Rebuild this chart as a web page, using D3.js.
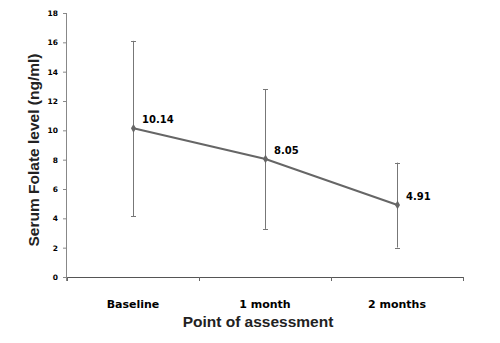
<!DOCTYPE html>
<html><head><meta charset="utf-8">
<script src="https://cdn.jsdelivr.net/npm/d3@7"></script>
<style>body{margin:0;background:#fff}svg{display:block}</style>
</head><body>
<svg id="c" width="500" height="343"></svg>
<script>
const categories = ["Baseline", "1 month", "2 months"];
const means = [10.14, 8.05, 4.91];
const errLow = [4.14, 3.28, 2.01];
const errHigh = [16.1, 12.8, 7.8];
const yTicks = [0, 2, 4, 6, 8, 10, 12, 14, 16, 18];

const svg = d3.select("#c");
const L = 67, R = 463, T = 13, B = 277;
const x = d3.scaleBand().domain(categories).range([L, R]);
const y = d3.scaleLinear().domain([0, 18]).range([B, T]);
const cx = d => x(d) + x.bandwidth() / 2;

// y axis
const ya = svg.append("g").attr("transform", `translate(${L},0)`)
  .call(d3.axisLeft(y).tickValues(yTicks).tickSize(4).tickPadding(5).tickFormat(d3.format("d")));
ya.select(".domain").attr("stroke", "#888").attr("d", `M-0.5,${T}V${B + 4}`);
ya.selectAll(".tick line").attr("stroke", "#888");
ya.selectAll(".tick text").attr("font-family", "DejaVu Sans").attr("font-weight", "bold")
  .attr("font-size", 7.5).attr("fill", "#000");

// x axis
const xa = svg.append("g").attr("transform", `translate(0,${B})`)
  .call(d3.axisBottom(x).tickSize(0).tickPadding(23));
xa.select(".domain").attr("stroke", "#555").attr("d", `M${L},0.5H${R}`);
xa.selectAll(".tick text").attr("font-family", "DejaVu Sans").attr("font-weight", "bold")
  .attr("font-size", 11).attr("fill", "#000");
const bounds = categories.map(c => x(c)).concat([R]);
xa.selectAll(".xt").data(bounds).enter().append("line")
  .attr("x1", d => d + 0.5).attr("x2", d => d + 0.5).attr("y1", 0).attr("y2", 4)
  .attr("stroke", "#666");

// error bars
const eb = svg.append("g").attr("stroke", "#777").attr("stroke-width", 1);
categories.forEach((c, i) => {
  const px = Math.round(cx(c)) + 0.5;
  eb.append("line").attr("x1", px).attr("x2", px).attr("y1", y(errLow[i])).attr("y2", y(errHigh[i]));
  eb.append("line").attr("x1", px - 2.5).attr("x2", px + 2.5).attr("y1", Math.round(y(errLow[i])) + 0.5).attr("y2", Math.round(y(errLow[i])) + 0.5);
  eb.append("line").attr("x1", px - 2.5).attr("x2", px + 2.5).attr("y1", Math.round(y(errHigh[i])) + 0.5).attr("y2", Math.round(y(errHigh[i])) + 0.5);
});

// line
const line = d3.line().x((d, i) => Math.round(cx(categories[i])) + 0.5).y(d => y(d));
svg.append("path").datum(means).attr("d", line).attr("fill", "none")
  .attr("stroke", "#666").attr("stroke-width", 2);

// markers
svg.selectAll(".m").data(means).enter().append("path")
  .attr("transform", (d, i) => `translate(${Math.round(cx(categories[i])) + 0.5},${y(d)})`)
  .attr("d", d3.symbol().type(d3.symbolDiamond).size(22)).attr("fill", "#666");

// labels
svg.selectAll(".lab").data(means).enter().append("text")
  .attr("x", (d, i) => cx(categories[i]) + 9).attr("y", d => y(d) - 5)
  .attr("font-family", "DejaVu Sans").attr("font-weight", "bold").attr("font-size", 10)
  .text(d => d3.format(".2f")(d));

// axis titles
svg.append("text").attr("x", 258).attr("y", 327).attr("text-anchor", "middle")
  .attr("font-family", "Liberation Sans, Arial").attr("font-weight", "bold").attr("font-size", 15.5)
  .attr("fill", "#222").text("Point of assessment");
svg.append("text").attr("transform", "translate(39,150) rotate(-90)").attr("text-anchor", "middle")
  .attr("font-family", "Liberation Sans, Arial").attr("font-weight", "bold").attr("font-size", 15.5)
  .attr("fill", "#222").text("Serum Folate level (ng/ml)");
</script>
</body></html>
